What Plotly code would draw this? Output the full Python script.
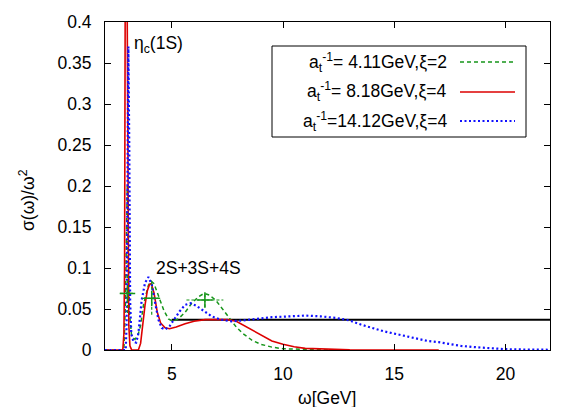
import plotly.graph_objects as go

# ---------------- data ----------------
omega_green = [2.0, 2.85, 2.92, 2.97, 3.0, 3.04, 3.1, 3.2, 3.35, 3.5, 3.6, 3.73, 3.85, 3.95,
               4.08, 4.2, 4.35, 4.5, 4.65, 4.85, 5.05, 5.3, 5.6, 5.9, 6.2, 6.45, 6.7, 7.0,
               7.3, 7.6, 7.9, 8.2, 8.6, 9.0, 9.5, 10.0, 11.0, 12.0, 13.0]
sigma_green = [0.0, 0.0, 0.06, 0.18, 0.2, 0.12, 0.045, 0.016, 0.013, 0.02, 0.03, 0.055, 0.07, 0.079,
               0.084, 0.081, 0.07, 0.058, 0.048, 0.038, 0.035, 0.038, 0.046, 0.057, 0.065, 0.069, 0.067, 0.060,
               0.049, 0.038, 0.028, 0.020, 0.012, 0.007, 0.0035, 0.0015, 0.0005, 0.0002, 0.0]

omega_red = [2.0, 2.8, 2.85, 2.88, 2.91, 2.95, 2.99, 3.03, 3.07, 3.12, 3.2, 3.35, 3.5, 3.6,
             3.7, 3.8, 3.9, 4.0, 4.08, 4.2, 4.35, 4.5, 4.7, 4.9, 5.2, 5.6, 6.0, 6.5,
             7.0, 7.5, 7.9, 8.3, 8.7, 9.0, 9.5, 10.0, 10.5, 11.0, 12.0, 13.0, 14.0, 17.0]
sigma_red = [0.0, 0.0, 0.02, 0.1, 0.45, 1.2, 0.45, 0.12, 0.03, 0.005, 0.0, 0.0, 0.0, 0.008,
             0.033, 0.055, 0.072, 0.08, 0.081, 0.07, 0.046, 0.033, 0.027, 0.026, 0.028, 0.032, 0.035, 0.037,
             0.037, 0.037, 0.035, 0.029, 0.022, 0.018, 0.011, 0.007, 0.004, 0.002, 0.0007, 0.0002, 0.0, 0.0]

omega_blue = [2.0, 2.93, 2.97, 3.01, 3.05, 3.09, 3.13, 3.18, 3.28, 3.4, 3.5, 3.65, 3.8, 3.95,
              4.1, 4.25, 4.4, 4.55, 4.7, 4.9, 5.1, 5.35, 5.6, 5.85, 6.1, 6.4, 6.8, 7.2,
              7.7, 8.2, 8.8, 9.5, 10.3, 11.0, 11.7, 12.4, 13.0, 13.5, 14.0, 14.5, 15.0, 15.5,
              16.0, 16.5, 17.0, 17.5, 18.0, 18.5, 19.0, 19.5, 20.0, 21.0, 22.0]
sigma_blue = [0.0, 0.0, 0.03, 0.25, 0.37, 0.25, 0.06, 0.02, 0.01, 0.009, 0.02, 0.061, 0.082, 0.089,
              0.08, 0.058, 0.037, 0.027, 0.025, 0.029, 0.037, 0.047, 0.055, 0.057, 0.054, 0.048, 0.041, 0.037,
              0.035, 0.036, 0.038, 0.040, 0.041, 0.042, 0.041, 0.039, 0.036, 0.031, 0.027, 0.023, 0.020, 0.017,
              0.014, 0.011, 0.0095, 0.007, 0.005, 0.0037, 0.0025, 0.0015, 0.001, 0.0005, 0.0003]

continuum_omega = [5.0, 22.0]
continuum_sigma = [0.037, 0.037]

eb_omega = [3.01, 4.1, 6.49]
eb_sigma = [0.069, 0.063, 0.061]
eb_omega_err = [0.34, 0.43, 0.83]
eb_sigma_err = [0.024, 0.02, 0.009]

legend_labels = ["a<sub>t</sub><sup>-1</sup>= 4.11GeV,ξ=2",
                 "a<sub>t</sub><sup>-1</sup>= 8.18GeV,ξ=4",
                 "a<sub>t</sub><sup>-1</sup>=14.12GeV,ξ=4"]

# ---------------- styles ----------------
GREEN = "#16951a"
RED = "#dd0000"
BLUE = "#1010ff"
FONT = "Liberation Sans, Arial, Helvetica, sans-serif"
FS = 17.5
green_dash = "4px,3px"
blue_dash = "2px,2.5px"

fig = go.Figure()

fig.add_trace(go.Scatter(x=continuum_omega, y=continuum_sigma, mode="lines",
                         line=dict(color="black", width=2), showlegend=False))
fig.add_trace(go.Scatter(x=omega_green, y=sigma_green, mode="lines",
                         line=dict(color=GREEN, width=1.5, dash=green_dash), showlegend=False))
fig.add_trace(go.Scatter(x=omega_red, y=sigma_red, mode="lines",
                         line=dict(color=RED, width=1.6), showlegend=False))
fig.add_trace(go.Scatter(x=omega_blue, y=sigma_blue, mode="lines",
                         line=dict(color=BLUE, width=2.2, dash=blue_dash), showlegend=False))

# error bars (dashed, built from the data arrays)
ebx, eby = [], []
for x, y, dx, dy in zip(eb_omega, eb_sigma, eb_omega_err, eb_sigma_err):
    ebx += [x - dx, x + dx, None, x, x, None]
    eby += [y, y, None, y - dy, y + dy, None]
fig.add_trace(go.Scatter(x=ebx, y=eby, mode="lines",
                         line=dict(color=GREEN, width=1.2, dash="3px,2px"), showlegend=False))
fig.add_trace(go.Scatter(x=eb_omega, y=eb_sigma, mode="markers",
                         marker=dict(symbol="cross-thin", size=11, line=dict(color=GREEN, width=1.5)),
                         showlegend=False))

# ---------------- layout ----------------
# page body has an 8px margin, so the figure is drawn 8px smaller and offset
OFF = 8
W, H = 581 - OFF, 407 - OFF
PL, PR, PT, PB = 105, 550, 22, 350          # plot area in reference pixels
L, T = PL - OFF, PT - OFF
R, B = W - (PR - OFF), H - (PB - OFF)
pw, ph = PR - PL, PB - PT


def px(xp):
    return (xp - PL) / pw


def py(yp):
    return (PB - yp) / ph


axis_common = dict(showline=True, linecolor="black", linewidth=1, mirror="ticks",
                   ticks="inside", ticklen=6, tickcolor="black", showgrid=False, zeroline=False,
                   automargin=False,
                   tickfont=dict(family=FONT, size=FS, color="black"))

fig.update_layout(
    width=W, height=H,
    margin=dict(l=L, r=R, t=T, b=B, autoexpand=False),
    paper_bgcolor="white", plot_bgcolor="white",
    showlegend=False,
    xaxis=dict(range=[2, 22], tickvals=[5, 10, 15, 20], ticklabelstandoff=8, **axis_common),
    yaxis=dict(range=[0, 0.4], dtick=0.05, tick0=0, ticklabelstandoff=9, **axis_common),
    font=dict(family=FONT, size=FS, color="black"),
)

annotations = [
    dict(x=px(327), y=py(398), xref="paper", yref="paper", text="ω[GeV]", showarrow=False,
         xanchor="center", yanchor="middle", font=dict(size=FS)),
    dict(x=px(27), y=py(200), xref="paper", yref="paper", text="σ(ω)/ω<sup>2</sup>", showarrow=False,
         textangle=-90, xanchor="center", yanchor="middle", font=dict(size=FS)),
    dict(x=3.2, y=0.372, xref="x", yref="y", text="η<sub>c</sub>(1S)", showarrow=False,
         xanchor="left", yanchor="middle", font=dict(size=FS)),
    dict(x=4.18, y=0.10, xref="x", yref="y", text="2S+3S+4S", showarrow=False,
         xanchor="left", yanchor="middle", font=dict(size=FS)),
]

# manual legend (symbols on the right, gnuplot style)
shapes = [dict(type="rect", xref="paper", yref="paper", x0=px(272), x1=px(526), y0=py(137), y1=py(46),
               line=dict(color="black", width=1), fillcolor="white", layer="above")]
entry_y = [62, 92, 121]
styles = [dict(color=GREEN, width=1.5, dash=green_dash), dict(color=RED, width=1.6),
          dict(color=BLUE, width=2.2, dash=blue_dash)]
for lab, yy, st in zip(legend_labels, entry_y, styles):
    annotations.append(dict(x=px(449), y=py(yy), xref="paper", yref="paper", text=lab, showarrow=False,
                            xanchor="right", yanchor="middle", font=dict(size=FS)))
    shapes.append(dict(type="line", xref="paper", yref="paper", x0=px(460), x1=px(515),
                       y0=py(yy), y1=py(yy), line=st, layer="above"))

fig.update_layout(annotations=annotations, shapes=shapes)

fig.write_html("out.html")
